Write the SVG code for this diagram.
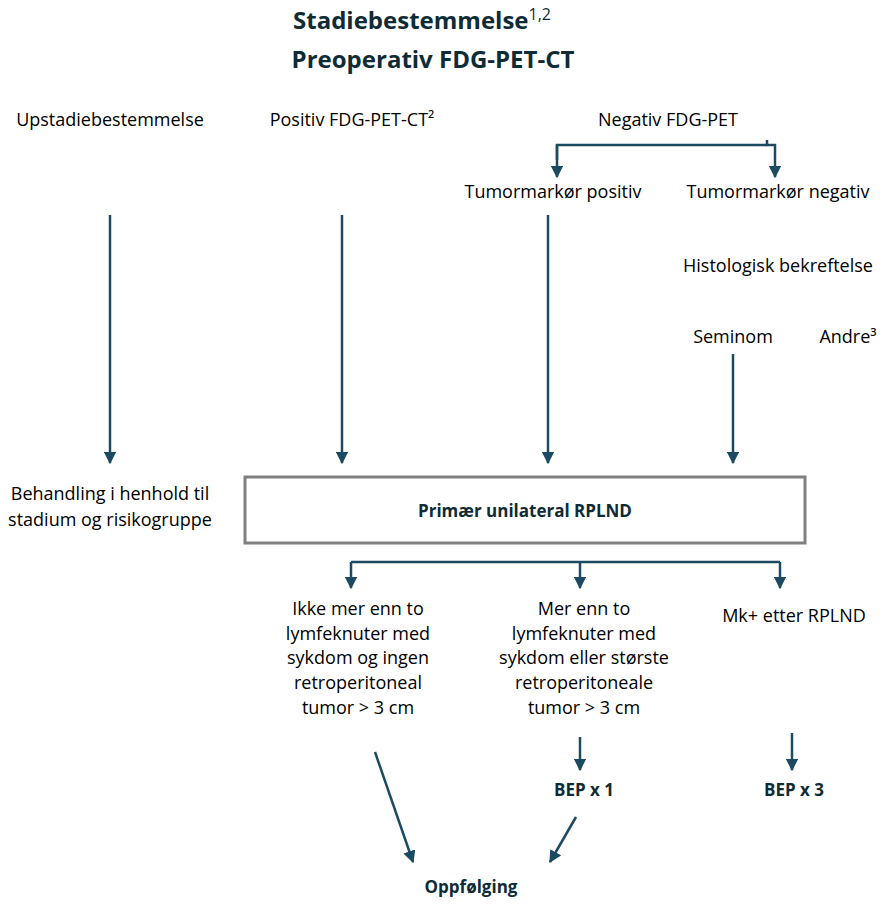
<svg xmlns="http://www.w3.org/2000/svg" width="885" height="904" viewBox="0 0 885 904">
<defs>
<marker id="ah" viewBox="0 0 10 10" refX="9" refY="5" markerWidth="5" markerHeight="5" orient="auto-start-reverse"><path d="M0,0 L10,5 L0,10 z" fill="#1b4a62"/></marker>
<style>
text{font-family:"Open Sans","Liberation Sans",Arial,sans-serif;font-size:18px;fill:#000;text-anchor:middle}
.t{font-size:24px;font-weight:bold;fill:#0e2b36}
.b{font-weight:bold;fill:#0e2b36;font-size:17px}
.c line,.c path{stroke:#1b4a62;stroke-width:2.5;fill:none}
.a{marker-end:url(#ah)}
</style>
</defs>
<rect width="885" height="904" fill="#fff"/>
<g id="title"><text class="t" x="422" y="29">Stadiebestemmelse<tspan font-size="16" font-weight="normal" dy="-9">1,2</tspan></text>
<text class="t" x="433" y="68">Preoperativ FDG-PET-CT</text></g>
<g id="n-up"><text x="110" y="126">Upstadiebestemmelse</text></g>
<g id="n-pos"><text x="352" y="126">Positiv FDG-PET-CT²</text></g>
<g id="n-neg"><text x="668" y="126">Negativ FDG-PET</text></g>
<g id="n-tmp"><text x="553" y="198">Tumormarkør positiv</text></g>
<g id="n-tmn"><text x="778" y="198">Tumormarkør negativ</text></g>
<g id="n-hist"><text x="778" y="272">Histologisk bekreftelse</text></g>
<g id="n-sem"><text x="733" y="343">Seminom</text></g>
<g id="n-andre"><text x="848" y="343">Andre³</text></g>
<g id="n-beh"><text x="110" y="500">Behandling i henhold til</text><text x="110" y="526">stadium og risikogruppe</text></g>
<g id="n-rplnd"><rect x="245" y="477" width="560" height="66" fill="#fff" stroke="#808080" stroke-width="3"/><text class="b" x="525" y="517">Primær unilateral RPLND</text></g>
<g id="n-ikke"><text x="358" y="615">Ikke mer enn to</text><text x="358" y="640">lymfeknuter med</text><text x="358" y="664">sykdom og ingen</text><text x="358" y="689">retroperitoneal</text><text x="358" y="714">tumor &gt; 3 cm</text></g>
<g id="n-mer"><text x="584" y="615">Mer enn to</text><text x="584" y="640">lymfeknuter med</text><text x="584" y="664">sykdom eller største</text><text x="584" y="689">retroperitoneale</text><text x="584" y="714">tumor &gt; 3 cm</text></g>
<g id="n-mk"><text x="794" y="622">Mk+ etter RPLND</text></g>
<g id="n-bep1"><text class="b" x="584" y="796">BEP x 1</text></g>
<g id="n-bep3"><text class="b" x="794" y="796">BEP x 3</text></g>
<g id="n-opp"><text class="b" x="471" y="893">Oppfølging</text></g>
<g class="c" id="connectors">
<path d="M767,145 L557,145 L557,160"/>
<line class="a" x1="557" y1="145" x2="557" y2="177"/>
<path class="a" d="M767,140 L767,145 L775,145 L775,177"/>
<line class="a" x1="110" y1="215" x2="110" y2="463"/>
<line class="a" x1="342" y1="215" x2="342" y2="463"/>
<line class="a" x1="548" y1="215" x2="548" y2="463"/>
<line class="a" x1="733" y1="354" x2="733" y2="463"/>
<path d="M351,562 L780,562"/>
<line class="a" x1="351" y1="562" x2="351" y2="588"/>
<line class="a" x1="580" y1="562" x2="580" y2="588"/>
<line class="a" x1="780" y1="562" x2="780" y2="588"/>
<line class="a" x1="580" y1="737" x2="580" y2="770"/>
<line class="a" x1="792" y1="733" x2="792" y2="770"/>
<line class="a" x1="375" y1="752" x2="413" y2="862"/>
<line class="a" x1="576" y1="817" x2="550" y2="862"/>
</g>
</svg>
